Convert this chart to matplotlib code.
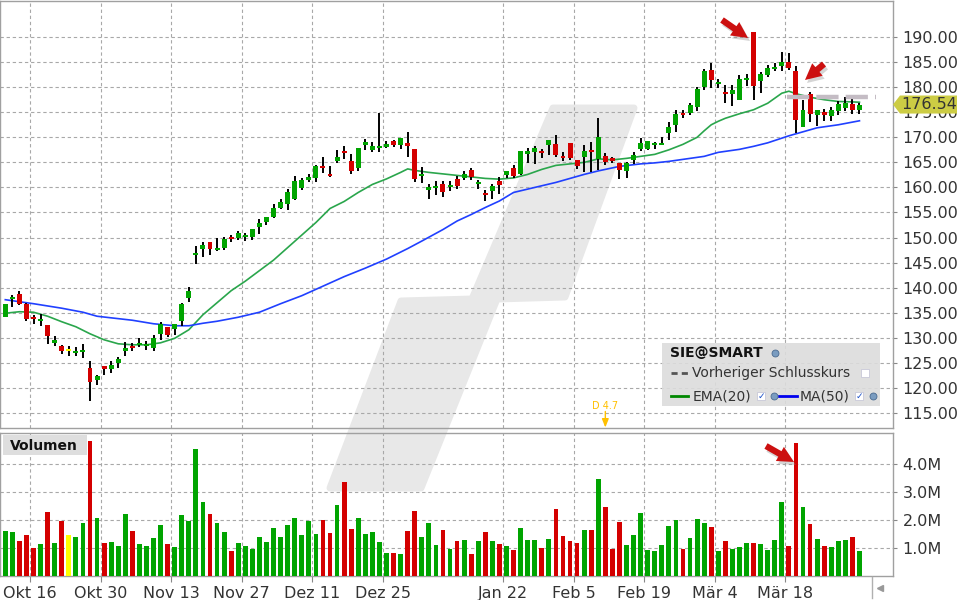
import matplotlib
matplotlib.use("Agg")
import matplotlib.pyplot as plt
import numpy as np
from matplotlib.patches import Polygon, Rectangle, FancyArrowPatch
from matplotlib.lines import Line2D
from matplotlib.transforms import blended_transform_factory

# ---- data ----
opens = [134.13, 137.73, 138.8, 136.67, 134.07, 133.27, 132.47, 128.93, 128.33, 127.4,
         126.93, 127.07, 124.0, 121.53, 124.47, 123.87, 124.93, 127.33, 128.33, 128.47,
         128.33, 127.93, 130.73, 132.07, 131.67, 133.4, 137.87, 146.46, 147.65, 149.04,
         147.45, 147.85, 150.1, 149.9, 150.03, 150.1, 152.02, 153.01, 154.2, 155.99,
         156.79, 157.78, 159.97, 161.56, 161.95, 164.34, 162.75, 165.33, 167.32, 165.33,
         163.94, 168.51, 167.52, 167.91, 168.11, 169.3, 168.51, 168.91, 167.72, 162.35,
         159.44, 159.97, 160.76, 160.17, 161.75, 161.95, 163.54, 160.76, 158.97, 159.37,
         161.36, 162.55, 163.94, 162.75, 166.72, 167.12, 167.32, 168.51, 168.71, 166.32,
         168.91, 165.53, 166.13, 167.52, 165.73, 166.32, 165.93, 164.93, 163.3, 165.55,
         167.6, 167.6, 168.4, 168.4, 170.8, 172.4, 174.8, 174.8, 176.0, 180.0,
         183.4, 180.6, 179.0, 178.6, 177.4, 181.4, 191.0, 181.2, 182.4, 183.6,
         184.2, 185.0, 183.2, 172.0, 178.6, 174.4, 175.0, 174.2, 175.2, 175.8,
         176.6, 175.4]
highs = [136.8, 138.47, 139.27, 136.93, 134.53, 134.8, 132.47, 130.27, 128.47, 128.27,
         128.13, 128.67, 125.27, 122.67, 124.47, 125.27, 126.13, 129.2, 129.0, 129.87,
         129.33, 130.47, 133.07, 132.07, 132.73, 136.93, 140.13, 148.3, 149.04, 149.04,
         149.9, 150.03, 150.43, 151.23, 150.83, 151.62, 153.61, 154.2, 156.79, 157.78,
         159.77, 162.35, 161.95, 162.75, 164.54, 166.13, 164.34, 167.52, 168.31, 166.72,
         167.91, 169.7, 169.11, 174.87, 169.3, 169.5, 169.9, 171.09, 167.72, 164.14,
         160.76, 161.36, 161.36, 161.36, 162.35, 163.34, 163.94, 161.56, 159.57, 160.76,
         162.15, 163.34, 164.54, 167.32, 167.91, 168.31, 167.72, 169.5, 170.5, 167.12,
         168.91, 165.53, 168.51, 169.11, 173.87, 166.92, 166.13, 164.93, 165.1, 167.1,
         169.8, 169.2, 169.0, 170.0, 173.0, 175.4, 175.4, 176.8, 180.0, 183.6,
         184.8, 181.6, 180.4, 180.4, 182.4, 182.6, 191.0, 183.0, 184.4, 184.8,
         187.0, 186.8, 184.2, 177.4, 179.0, 175.4, 175.6, 176.0, 177.2, 178.0,
         177.6, 176.8]
lows = [134.1, 136.13, 136.47, 133.33, 132.8, 132.27, 128.8, 128.33, 126.67, 126.27,
        126.27, 125.93, 117.33, 120.53, 122.67, 122.93, 123.93, 126.33, 127.33, 128.13,
        127.6, 127.33, 129.47, 130.13, 130.47, 132.33, 137.07, 144.73, 146.13, 146.52,
        147.25, 147.45, 149.1, 149.5, 149.3, 149.5, 150.7, 152.6, 153.81, 155.6,
        155.4, 157.45, 159.57, 161.16, 161.16, 162.95, 162.15, 164.93, 165.73, 162.75,
        163.34, 167.52, 167.12, 167.12, 167.91, 168.11, 167.72, 166.13, 161.16, 160.96,
        157.78, 158.58, 158.18, 159.37, 159.77, 161.56, 161.56, 159.77, 157.38, 157.78,
        158.77, 161.95, 161.95, 162.55, 164.93, 164.74, 165.93, 166.52, 166.13, 165.33,
        165.53, 163.74, 163.15, 163.15, 163.54, 164.54, 164.93, 161.75, 161.95, 164.7,
        167.2, 167.4, 167.6, 168.4, 169.4, 171.0, 173.8, 174.4, 175.2, 179.4,
        179.8, 179.8, 176.8, 176.2, 177.4, 180.2, 177.4, 178.8, 182.0, 183.2,
        183.2, 183.4, 170.8, 172.0, 173.0, 172.2, 173.2, 173.2, 174.4, 175.2,
        174.6, 174.6]
closes = [136.67, 138.13, 136.67, 133.67, 133.67, 133.67, 130.33, 129.6, 127.33, 127.4,
          127.33, 127.53, 121.13, 122.33, 123.73, 124.67, 125.67, 127.87, 127.87, 128.93,
          128.6, 129.87, 132.73, 130.6, 132.73, 136.73, 139.33, 146.85, 148.44, 147.65,
          147.85, 149.64, 149.7, 150.83, 150.43, 151.62, 152.81, 154.2, 155.99, 157.19,
          159.17, 161.36, 161.56, 162.15, 164.34, 163.94, 162.35, 166.13, 166.92, 163.34,
          167.91, 169.11, 168.31, 168.31, 168.71, 168.51, 169.9, 168.31, 161.75, 162.75,
          160.17, 160.36, 159.17, 160.56, 160.36, 162.75, 162.15, 161.16, 158.58, 160.36,
          160.56, 163.34, 162.35, 167.32, 167.32, 167.91, 166.92, 169.5, 166.52, 165.93,
          165.93, 164.34, 167.32, 167.12, 170.1, 165.13, 165.33, 163.54, 164.9, 166.45,
          168.8, 169.2, 168.8, 168.8, 172.0, 174.6, 174.4, 176.4, 179.6, 183.2,
          181.4, 181.0, 178.6, 179.4, 181.6, 181.8, 180.2, 182.6, 183.8, 183.8,
          185.0, 183.8, 173.4, 175.4, 174.6, 175.4, 174.4, 175.4, 176.6, 176.8,
          175.4, 176.54]
volumes = [1.61, 1.57, 1.25, 1.46, 1.0, 1.14, 2.29, 1.18, 1.96, 1.46,
           1.39, 1.89, 4.82, 2.07, 1.18, 1.21, 1.07, 2.21, 1.61, 1.14,
           1.07, 1.36, 1.82, 1.14, 1.04, 2.18, 1.96, 4.54, 2.64, 2.21,
           1.89, 1.57, 0.89, 1.18, 1.07, 0.96, 1.39, 1.21, 1.71, 1.39,
           1.82, 2.07, 1.46, 1.96, 1.5, 2.0, 1.54, 2.54, 3.36, 1.68,
           2.07, 1.5, 1.57, 1.21, 0.82, 0.82, 0.79, 1.61, 2.32, 1.39,
           1.89, 1.11, 1.64, 0.96, 1.25, 1.29, 0.79, 1.25, 1.57, 1.25,
           1.14, 1.07, 0.93, 1.71, 1.29, 1.29, 1.0, 1.32, 2.39, 1.43,
           1.25, 1.18, 1.64, 1.64, 3.46, 2.46, 0.96, 1.93, 1.11, 1.46,
           2.25, 0.93, 0.89, 1.11, 1.79, 2.0, 0.96, 1.36, 2.04, 1.89,
           1.75, 0.89, 1.25, 0.96, 1.04, 1.18, 1.18, 1.14, 0.93, 1.29,
           2.64, 1.07, 4.75, 2.46, 1.86, 1.32, 1.07, 1.04, 1.25, 1.29,
           1.39, 0.89]

ema_idx = [0, 2, 4, 6, 8, 10, 12, 14, 16, 18, 20, 22, 24, 26, 28, 30, 32, 34, 36, 38,
           40, 42, 44, 46, 48, 50, 52, 54, 56, 57, 58, 60, 62, 64, 66, 68, 70, 72, 74, 76,
           78, 80, 82, 84, 86, 88, 90, 92, 94, 96, 98, 99, 100, 101, 102, 104, 106, 108, 110, 111,
           112, 114, 116, 118, 120, 121]
ema_val = [134.9, 135.2, 135.1, 134.3, 133.2, 132.2, 130.8, 129.6, 128.8, 128.6, 128.6, 129.0,
           129.9, 131.6, 134.6, 137.0, 139.4, 141.3, 143.4, 145.5, 148.0, 150.5, 153.0, 155.8,
           157.2, 159.0, 160.6, 161.7, 163.0, 163.7, 163.4, 163.0, 162.7, 162.4, 162.1, 161.8,
           161.65, 161.9, 162.6, 163.6, 164.4, 164.7, 165.0, 165.7, 165.5, 165.8, 166.2, 166.6,
           167.5, 168.6, 170.0, 171.3, 172.5, 173.2, 173.8, 174.7, 175.5, 176.8, 178.8, 179.2,
           178.7, 178.0, 177.5, 177.15, 177.07, 177.0]
ma_idx = [0, 4, 8, 11, 13, 18, 21, 24, 26, 28, 30, 33, 36, 39, 42, 45, 48, 51, 54, 57,
          59, 62, 64, 66, 68, 70, 72, 75, 78, 80, 82, 84, 87, 90, 92, 94, 96, 99, 101, 104,
          106, 108, 111, 113, 115, 118, 121]
ma_val = [137.6, 136.8, 135.9, 135.1, 134.3, 133.5, 132.8, 132.4, 132.4, 132.9, 133.3, 134.1,
          135.1, 136.8, 138.4, 140.3, 142.2, 143.9, 145.7, 147.8, 149.3, 151.6, 153.3, 154.6,
          156.0, 157.3, 159.0, 160.0, 161.0, 161.8, 162.6, 163.3, 164.2, 164.7, 164.9, 165.2,
          165.6, 166.2, 167.0, 167.6, 168.2, 168.9, 170.3, 171.1, 171.9, 172.5, 173.3]

prev_close = 178.0
last_price = 176.54
dividend_idx = 85
dividend_label = "D 4.7"

tick_pos = [4, 14, 24, 34, 44, 54, 71, 81, 91, 101, 111]
tick_labels = ["Okt 16", "Okt 30", "Nov 13", "Nov 27", "Dez 11", "Dez 25",
               "Jan 22", "Feb 5", "Feb 19", "Mär 4", "Mär 18"]
price_ticks = list(range(115, 191, 5))
vol_ticks = [1, 2, 3, 4]

# ---- figure ----
W, H = 960, 600
def px(x, y):
    return (x / W, 1 - y / H)

fig = plt.figure(figsize=(9.6, 6.0), dpi=100)
fig.patch.set_facecolor("white")

GREEN = "#00a400"
RED = "#d40000"
YELLOW = "#ffff00"
GRID = "#a8a8a8"
TXT = "#333333"

ax_p = fig.add_axes([0, 1 - 428 / H, 893 / W, 427 / H])
ax_v = fig.add_axes([0, 1 - 576 / H, 893 / W, 143 / H])

# watermark shape behind both panels
wm = [(553, 108), (634, 108), (565, 297), (497, 299), (421, 488), (330, 488), (401, 301), (472, 299)]
fig.add_artist(Polygon([px(*p) for p in wm], closed=True, transform=fig.transFigure,
                       facecolor="#e8e8e8", edgecolor="#e8e8e8", lw=5, joinstyle="round", zorder=-1))

n = len(closes)
idx = np.arange(n)
o = np.array(opens); c = np.array(closes)
colors = [GREEN if cc > oo else (RED if cc < oo else YELLOW) for oo, cc in zip(o, c)]

for ax in (ax_p, ax_v):
    ax.set_facecolor("none")
    ax.set_xlim(-0.75, 125.75)
    ax.set_xticks(np.array(tick_pos) - 0.5)
    ax.grid(True, color=GRID, linestyle=(0, (3, 2.5)), linewidth=0.8)
    ax.set_axisbelow(True)
    for s in ax.spines.values():
        s.set_color("#a0a0a0")
        s.set_linewidth(1.0)
    ax.yaxis.tick_right()
    ax.tick_params(axis="y", length=3, pad=4, labelsize=11.5, colors="#888888", labelcolor=TXT)

# price panel
ax_p.set_ylim(112.0, 197.2)
ax_p.set_yticks(price_ticks)
ax_p.set_yticklabels([f"{v:.2f}" for v in price_ticks])
ax_p.tick_params(axis="x", length=0, labelbottom=False)

ax_p.plot(ema_idx, ema_val, color="#2aa64c", lw=1.2, zorder=2.5)
ax_p.plot(ma_idx, ma_val, color="#2040ff", lw=1.2, zorder=2.5)
ax_p.vlines(idx, lows, highs, color="black", lw=1.4, zorder=3)
body = np.maximum(np.abs(c - o), 0.35)
ax_p.bar(idx, body, bottom=np.minimum(o, c), width=0.7, color=colors, zorder=4)

ax_p.hlines(prev_close, n - 11.3, n + 1.4, color="#c4bcc4", lw=3.2,
            linestyles=(0, (5, 1.6)), zorder=5)

# dividend marker
ax_p.text(dividend_idx, 116.4, dividend_label, color="#ffc000", fontsize=7,
          ha="center", va="center", zorder=6)
ax_p.annotate("", xy=(dividend_idx, 112.1), xytext=(dividend_idx, 115.3),
              arrowprops=dict(arrowstyle="-|>,head_length=0.5,head_width=0.2",
                              color="#ffc000", lw=1.0, shrinkA=0, shrinkB=0),
              annotation_clip=False, zorder=6)

# last price tag
bt = blended_transform_factory(fig.transFigure, ax_p.transData)
tag = [(893 / W, last_price), (900 / W, last_price + 1.8), (957 / W, last_price + 1.8),
       (957 / W, last_price - 1.8), (900 / W, last_price - 1.8)]
ax_p.add_patch(Polygon(tag, closed=True, transform=bt, facecolor="#cccc44",
                       edgecolor="none", clip_on=False, zorder=7))
ax_p.text(901 / W, last_price, f"{last_price:.2f}", transform=bt, fontsize=11.5,
          color=TXT, va="center", ha="left", zorder=8, clip_on=False)

# volume panel
ax_v.set_ylim(0, 5.107)
ax_v.set_yticks(vol_ticks)
ax_v.set_yticklabels([f"{v:.1f}M" for v in vol_ticks])
ax_v.bar(idx, volumes, width=0.68, color=colors, zorder=3)
ax_v.set_xticklabels(tick_labels)
ax_v.tick_params(axis="x", length=4, pad=3, labelsize=11.5, colors="#888888", labelcolor=TXT)

# Volumen label
fig.add_artist(Rectangle(px(3, 455), 84 / W, 20 / H, transform=fig.transFigure,
                         facecolor="#dedede", edgecolor="none", zorder=5))
fig.text(*px(10, 445.5), "Volumen", fontsize=10, fontweight="bold", color="#111111",
         va="center", ha="left", zorder=6)

# legend box
fig.add_artist(Rectangle(px(662, 406), 218 / W, 63 / H, transform=fig.transFigure,
                         facecolor="#dcdcdc", edgecolor="none", alpha=0.9, zorder=5))
fig.text(*px(670, 353), "SIE@SMART", fontsize=10, fontweight="bold", color="#111111",
         va="center", ha="left", zorder=6)
fig.add_artist(Line2D([671 / W, 688 / W], [1 - 373 / H] * 2, transform=fig.transFigure,
                      color="#555555", lw=2, linestyle=(0, (2.2, 1.5)), zorder=6))
fig.text(*px(692, 373), "Vorheriger Schlusskurs", fontsize=10, color=TXT,
         va="center", ha="left", zorder=6)
fig.add_artist(Line2D([671 / W, 688 / W], [1 - 396 / H] * 2, transform=fig.transFigure,
                      color="#008800", lw=2, zorder=6))
fig.text(*px(693, 396), "EMA(20)", fontsize=10, color=TXT, va="center", ha="left", zorder=6)
fig.add_artist(Line2D([779 / W, 797 / W], [1 - 396 / H] * 2, transform=fig.transFigure,
                      color="#0000ee", lw=2, zorder=6))
fig.text(*px(800, 396), "MA(50)", fontsize=10, color=TXT, va="center", ha="left", zorder=6)

# small icons: globes and check boxes
for gx, gy in [(775, 353), (774, 396), (873, 396)]:
    fig.add_artist(Line2D([gx / W], [1 - gy / H], transform=fig.transFigure, marker="o",
                          markersize=5, markerfacecolor="#7a9cc0", markeredgecolor="#4a6a90",
                          markeredgewidth=0.6, zorder=6))
for bx, by, chk in [(865, 373, False), (761, 396, True), (859, 396, True)]:
    fig.add_artist(Line2D([bx / W], [1 - by / H], transform=fig.transFigure, marker="s",
                          markersize=6, markerfacecolor="white", markeredgecolor="#c8c8d8",
                          markeredgewidth=0.6, zorder=6))
    if chk:
        fig.text(*px(bx, by), "✓", fontsize=6.5, color="#1a4fc8", fontweight="bold",
                 ha="center", va="center", zorder=7)

# red annotation arrows with a soft shadow
arrows = [((722, 20), (748, 38)), ((824, 64), (805, 80)), ((766, 446), (794, 462))]
for (x0, y0), (x1, y1) in arrows:
    for dx, dy, col, a in [(2, 3, "#888888", 0.35), (0, 0, "#cc1010", 1.0)]:
        fig.add_artist(FancyArrowPatch(px(x0 + dx, y0 + dy), px(x1 + dx, y1 + dy),
                                       transform=fig.transFigure,
                                       arrowstyle="simple,head_length=0.9,head_width=0.9,tail_width=0.35",
                                       mutation_scale=13, color=col, alpha=a, lw=0,
                                       shrinkA=0, shrinkB=0, zorder=8))

# bottom right scroll marker
fig.add_artist(Line2D([872 / W, 872 / W], [1 - 577 / H, 1 - 598 / H], transform=fig.transFigure,
                      color="#b0b0b0", lw=1, zorder=6))
fig.add_artist(Line2D([880 / W], [1 - 588 / H], transform=fig.transFigure, marker="<",
                      markersize=4, color="#999999", lw=0, zorder=6))

fig.savefig("out.png", dpi=100)
